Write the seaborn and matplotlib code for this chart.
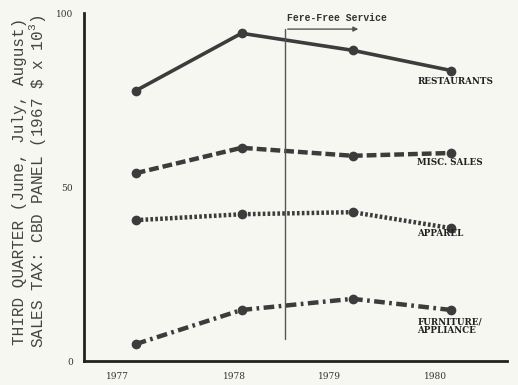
import matplotlib
matplotlib.use("Agg")
import matplotlib.pyplot as plt
import seaborn as sns
import pandas as pd

years = [1977.17, 1978.17, 1979.22, 1980.15]
restaurants = [77.7, 94.2, 89.3, 83.5]
misc_sales = [54.0, 61.3, 59.0, 59.8]
apparel = [40.5, 42.2, 42.8, 38.2]
furniture = [4.9, 14.7, 17.9, 14.7]
series_names = ["RESTAURANTS", "MISC. SALES", "APPAREL", "FURNITURE/\nAPPLIANCE"]
tick_years = [1977, 1978.1, 1979, 1980]
tick_labels = ["1977", "1978", "1979", "1980"]
fare_free_year = 1978.58

sns.set_style("white")
plt.rcParams["mathtext.fontset"] = "custom"
plt.rcParams["mathtext.rm"] = "Liberation Mono"
bg = "#f7f7f2"
ink = "#3c3c3c"

fig = plt.figure(figsize=(5.18, 3.85), dpi=100, facecolor=bg)
ax = fig.add_axes([0.162, 0.062, 0.817, 0.904], facecolor=bg)

styles = [
    dict(linestyle="-", linewidth=2.6),
    dict(linestyle=(0, (2.2, 0.9)), linewidth=3.2),
    dict(linestyle=(0, (0.6, 0.5)), linewidth=3.2),
    dict(linestyle=(0, (2.4, 1.0, 0.6, 1.0)), linewidth=3.2),
]
data = [restaurants, misc_sales, apparel, furniture]
for name, vals, st in zip(series_names, data, styles):
    df = pd.DataFrame({"year": years, "value": vals})
    sns.lineplot(data=df, x="year", y="value", ax=ax, color=ink, marker="o",
                 markersize=7, markeredgewidth=0, **st)

label_pos = [(1979.83, 80.3), (1979.83, 57.0), (1979.83, 36.7), (1979.83, 10.0)]
for name, (lx, ly) in zip(series_names, label_pos):
    ax.text(lx, ly, name, fontsize=6.3, family="DejaVu Serif", color="#222",
            va="center", ha="left", fontweight="bold", linespacing=0.95)

# Fare-free service marker
ax.plot([fare_free_year, fare_free_year], [6.4, 95.4], color="#555", lw=1)
ax.annotate("", xy=(1979.3, 95.4), xytext=(fare_free_year, 95.4),
            arrowprops=dict(arrowstyle="-|>", color="#555", lw=1, mutation_scale=7))
ax.text(fare_free_year + 0.02, 98.5, "Fere-Free Service", fontsize=7,
        family="Liberation Mono", fontweight="bold", color="#333", va="center")

ax.set_xlim(1976.68, 1980.68)
ax.set_ylim(0, 100)
ax.set_xticks(tick_years)
ax.set_xticklabels(tick_labels, fontsize=6.5, family="DejaVu Serif", color="#333")
ax.set_xticks([1977.68, 1978.67, 1979.68, 1980.66], minor=True)
ax.set_yticks([0, 50, 100])
ax.set_yticklabels(["0", "50", "100"], fontsize=6.5, family="DejaVu Serif", color="#333")
ax.set_yticks(range(10, 100, 10), minor=True)
ax.tick_params(axis="x", which="major", length=0, pad=8)
ax.tick_params(axis="x", which="minor", length=5, direction="in", width=1, color="#333")
ax.tick_params(axis="y", which="major", length=5, direction="in", width=1, color="#333", pad=8)
ax.tick_params(axis="y", which="minor", length=4, direction="inout", width=1, color="#333")
ax.set_xlabel("")
ax.set_ylabel("")
fig.text(20 / 518, 0.53, "THIRD QUARTER (June, July, August)", rotation=90,
         fontsize=11.5, family="Liberation Mono", color="#444", ha="center", va="center")
fig.text(38 / 518, 0.53, r"SALES TAX: CBD PANEL (1967 \$ x 10$^3$)", rotation=90,
         fontsize=11.5, family="Liberation Mono", color="#444", ha="center", va="center")
for s in ["top", "right"]:
    ax.spines[s].set_visible(False)
for s in ["left", "bottom"]:
    ax.spines[s].set_linewidth(2)
    ax.spines[s].set_color("#222")

fig.savefig("out.png", dpi=100, facecolor=bg)
